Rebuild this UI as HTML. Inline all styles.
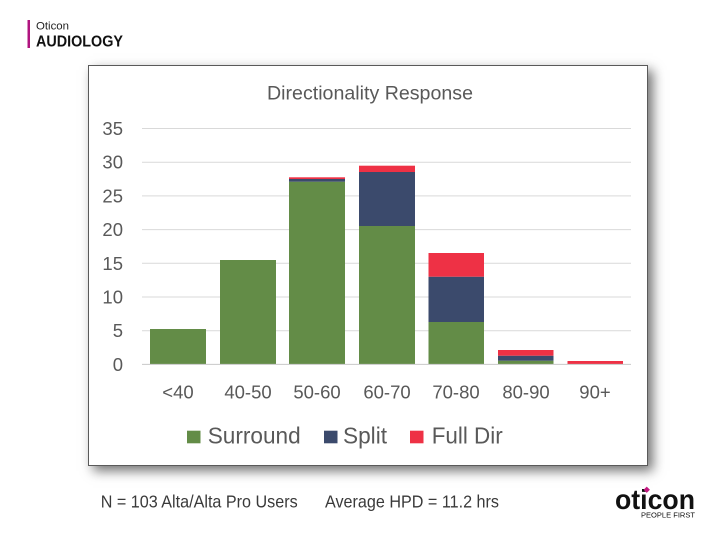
<!DOCTYPE html>
<html><head><meta charset="utf-8">
<style>
html,body{margin:0;padding:0;background:#fff;}
body{width:720px;height:540px;position:relative;overflow:hidden;font-family:"Liberation Sans",sans-serif;}
#box{position:absolute;left:88px;top:65px;width:558px;height:399px;border:1.5px solid #5a5a5a;background:#fff;box-shadow:5px 5px 11px rgba(0,0,0,0.55);}
svg{position:absolute;left:0;top:0;}
</style></head>
<body>
<div id="box"></div>
<svg width="720" height="540" viewBox="0 0 720 540" xmlns="http://www.w3.org/2000/svg" font-family="Liberation Sans, sans-serif">
  <!-- header -->
  <rect x="27.5" y="20" width="2.5" height="28" fill="#b0147f"/>
  <text x="36" y="29.3" font-size="11" fill="#222" textLength="33" lengthAdjust="spacingAndGlyphs">Oticon</text>
  <text x="36" y="46.7" font-size="15.5" font-weight="bold" fill="#111" textLength="87" lengthAdjust="spacingAndGlyphs">AUDIOLOGY</text>

  <!-- title -->
  <text x="267" y="99.5" font-size="19.5" fill="#595959" textLength="206" lengthAdjust="spacingAndGlyphs">Directionality Response</text>

  <!-- gridlines -->
  <g stroke="#d9d9d9" stroke-width="1">
    <line x1="142" x2="631" y1="128.5" y2="128.5"/>
    <line x1="142" x2="631" y1="162.2" y2="162.2"/>
    <line x1="142" x2="631" y1="195.9" y2="195.9"/>
    <line x1="142" x2="631" y1="229.6" y2="229.6"/>
    <line x1="142" x2="631" y1="263.3" y2="263.3"/>
    <line x1="142" x2="631" y1="297" y2="297"/>
    <line x1="142" x2="631" y1="330.7" y2="330.7"/>
  </g>

  <!-- y labels -->
  <g font-size="18.5" fill="#595959" text-anchor="end">
    <text x="123" y="135">35</text>
    <text x="123" y="168.7">30</text>
    <text x="123" y="202.4">25</text>
    <text x="123" y="236.1">20</text>
    <text x="123" y="269.8">15</text>
    <text x="123" y="303.5">10</text>
    <text x="123" y="337.2">5</text>
    <text x="123" y="370.9">0</text>
  </g>

  <!-- bars -->
  <g>
    <!-- <40 -->
    <rect x="150" y="329" width="56" height="35" fill="#638c47"/>
    <!-- 40-50 -->
    <rect x="220" y="260" width="56" height="104" fill="#638c47"/>
    <!-- 50-60 -->
    <rect x="289" y="181.7" width="56" height="182.3" fill="#638c47"/>
    <rect x="289" y="179" width="56" height="2.7" fill="#3b4a6c"/>
    <rect x="289" y="177.3" width="56" height="1.7" fill="#ee3145"/>
    <!-- 60-70 -->
    <rect x="359" y="226" width="56" height="138" fill="#638c47"/>
    <rect x="359" y="172" width="56" height="54" fill="#3b4a6c"/>
    <rect x="359" y="165.7" width="56" height="6.3" fill="#ee3145"/>
    <!-- 70-80 -->
    <rect x="428.5" y="322" width="55.5" height="42" fill="#638c47"/>
    <rect x="428.5" y="276.7" width="55.5" height="45.3" fill="#3b4a6c"/>
    <rect x="428.5" y="253" width="55.5" height="23.7" fill="#ee3145"/>
    <!-- 80-90 -->
    <rect x="498" y="360.7" width="55.5" height="3.3" fill="#638c47"/>
    <rect x="498" y="355.7" width="55.5" height="5" fill="#3b4a6c"/>
    <rect x="498" y="350" width="55.5" height="5.7" fill="#ee3145"/>
    <!-- 90+ -->
    <rect x="567.5" y="361" width="55.5" height="3" fill="#ee3145"/>
  </g>

  <!-- axis -->
  <line x1="142" x2="631" y1="364.4" y2="364.4" stroke="#c8c8c8" stroke-width="1"/>

  <!-- x labels -->
  <g font-size="18.5" fill="#595959" text-anchor="middle">
    <text x="178" y="398.3">&lt;40</text>
    <text x="248" y="398.3">40-50</text>
    <text x="317" y="398.3">50-60</text>
    <text x="387" y="398.3">60-70</text>
    <text x="456" y="398.3">70-80</text>
    <text x="526" y="398.3">80-90</text>
    <text x="595" y="398.3">90+</text>
  </g>

  <!-- legend -->
  <rect x="187" y="430.7" width="13.5" height="12.6" fill="#638c47"/>
  <text x="207.7" y="443.3" font-size="23.5" fill="#595959" textLength="93" lengthAdjust="spacingAndGlyphs">Surround</text>
  <rect x="324" y="430.7" width="13.5" height="12.6" fill="#3b4a6c"/>
  <text x="343" y="443.3" font-size="23.5" fill="#595959" textLength="44" lengthAdjust="spacingAndGlyphs">Split</text>
  <rect x="410" y="430.7" width="13.5" height="12.6" fill="#ee3145"/>
  <text x="431.7" y="443.3" font-size="23.5" fill="#595959" textLength="71" lengthAdjust="spacingAndGlyphs">Full Dir</text>

  <!-- footer -->
  <text x="100.7" y="507.7" font-size="17.5" fill="#3a3a3a" textLength="197" lengthAdjust="spacingAndGlyphs">N = 103 Alta/Alta Pro Users</text>
  <text x="325" y="507.7" font-size="17.5" fill="#3a3a3a" textLength="174" lengthAdjust="spacingAndGlyphs">Average HPD = 11.2 hrs</text>

  <!-- logo -->
  <text x="615" y="509" font-size="28" font-weight="bold" fill="#111" textLength="80" lengthAdjust="spacingAndGlyphs">oticon</text>
  <rect x="644.5" y="487.5" width="4.5" height="4.5" fill="#c2187f" transform="rotate(45 646.75 489.75)"/>
  <text x="641" y="517.7" font-size="7.5" fill="#111" textLength="54" lengthAdjust="spacingAndGlyphs">PEOPLE FIRST</text>
</svg>
</body></html>
